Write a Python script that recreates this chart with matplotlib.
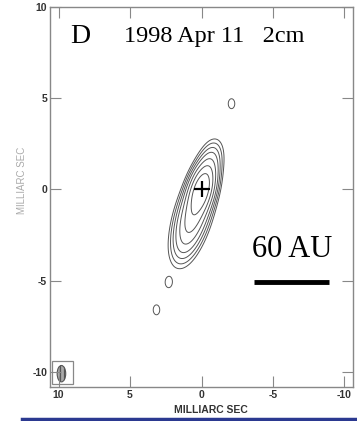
import numpy as np
import matplotlib
matplotlib.use("Agg")
import matplotlib.pyplot as plt
from matplotlib.patches import Ellipse, Rectangle
from matplotlib import font_manager

# --- source model: elliptical Gaussian components (mas, relative flux) ---
comp_x = [0.0, 0.57, 1.1, -0.53, -2.1, 2.3, 3.15]
comp_y = [0.0, -1.38, -2.65, 1.29, 4.7, -5.1, -6.6]
comp_flux = [1.0, 0.45, 0.12, 0.15, 0.035, 0.035, 0.035]
comp_smaj = [0.8, 1.0, 0.95, 0.8, 0.31, 0.31, 0.31]
comp_smin = [0.45, 0.55, 0.55, 0.45, 0.26, 0.26, 0.26]
comp_pa = [-22.5, -22.5, -22.5, -22.5, 0.0, 0.0, 0.0]

contour_levels = [0.02, 0.035, 0.06, 0.1, 0.18, 0.32, 0.56]

# restoring beam (mas) and scale bar
beam_x, beam_y, beam_w, beam_h = 9.8, -10.1, 0.6, 0.9
scalebar_x = [-3.7, -8.95]
scalebar_y = -5.05

x_ticks = [10, 5, 0, -5, -10]
y_ticks = [10, 5, 0, -5, -10]

# --- fonts ---
names = {f.name for f in font_manager.fontManager.ttflist}
tick_family = "Liberation Sans Narrow" if "Liberation Sans Narrow" in names else "Liberation Sans"
serif = "Liberation Serif"

fig = plt.figure(figsize=(3.57, 4.21), dpi=100)
ax = fig.add_axes([50 / 357, 1 - 387 / 421, 303 / 357, 380 / 421])

# build the image on a grid
gx = np.linspace(-11, 11, 441)
gy = np.linspace(-11, 11, 441)
X, Y = np.meshgrid(gx, gy)
Z = np.zeros_like(X)
for x0, y0, f, a, b, pa in zip(comp_x, comp_y, comp_flux, comp_smaj, comp_smin, comp_pa):
    t = np.deg2rad(pa)
    # major axis direction: PA from north through east (east = +x)
    ux, uy = np.sin(t), np.cos(t)
    dx, dy = X - x0, Y - y0
    u = dx * ux + dy * uy
    v = -dx * uy + dy * ux
    Z += f * np.exp(-0.5 * ((u / a) ** 2 + (v / b) ** 2))
Z /= Z.max()

ax.contour(X, Y, Z, levels=contour_levels, colors="#555555", linewidths=0.7)
ax.plot([0], [0], marker="+", color="black", markersize=12, mew=1.6)

# scale bar
ax.plot(scalebar_x, [scalebar_y, scalebar_y], color="black", lw=3.5, solid_capstyle="butt")
ax.text(np.mean(scalebar_x), -3.3, "60 AU", family=serif, fontsize=22,
        ha="center", va="center")

# labels
ax.text(8.5, 8.4, "D", family=serif, fontsize=20, ha="center", va="center")
ax.text(5.4, 8.4, "1998 Apr 11   2cm", family=serif, fontsize=17.5,
        ha="left", va="center")

# beam
ax.add_patch(Rectangle((9.76 - 0.735, -10.67), 1.47, 1.28, fill=False,
                       edgecolor="#888888", lw=0.9))
ax.add_patch(Ellipse((beam_x, beam_y), beam_w, beam_h, facecolor="#aaaaaa",
                     edgecolor="#555555", hatch="||||", lw=0.8))

ax.set_xlim(10.6, -10.6)
ax.set_ylim(-10.83, 10)
ax.set_xticks(x_ticks)
ax.set_yticks(y_ticks)
ax.set_xticklabels([str(v) for v in x_ticks])
ax.set_yticklabels([str(v) for v in y_ticks])
ax.tick_params(direction="in", length=8, width=0.8, color="#888888",
               top=True, right=True, labelsize=7.5, pad=2)
for lab in ax.get_xticklabels() + ax.get_yticklabels():
    lab.set_family(tick_family)
    lab.set_fontweight("bold")
    lab.set_color("#333333")
for s in ax.spines.values():
    s.set_color("#888888")
    s.set_linewidth(1.0)

ax.set_xlabel("MILLIARC SEC", family=tick_family, fontweight="bold", fontsize=7.5,
              color="#333333")
ax.xaxis.set_label_coords((211 - 50) / 303, -(405 - 387) / 380)
fig.text(22 / 357, 1 - 180 / 421, "MILLIARC SEC", family=tick_family, fontsize=7,
         color="#aaaaaa", rotation=90, ha="center", va="center")

# bottom rule
fig.add_artist(plt.Line2D([22 / 357, 1.0], [1 - 419 / 421, 1 - 419 / 421],
                          transform=fig.transFigure, color="#2b3990", lw=2.5))

fig.savefig("out.png", dpi=100)
